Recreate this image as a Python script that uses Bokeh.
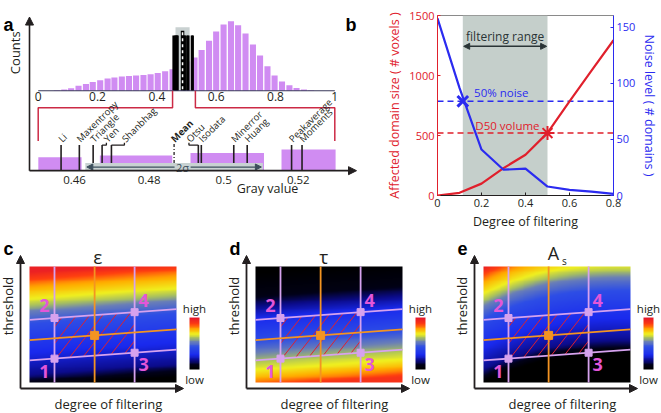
import numpy as np
from bokeh.plotting import figure
from bokeh.models import Range1d, LinearAxis, Arrow, NormalHead, FixedTicker
from bokeh.layouts import row, column
from bokeh.embed import file_html
from bokeh.resources import INLINE
from bokeh.core.properties import value

FONT = "Open Sans"
INK = "#231f20"
PURPLE = "#d08cf2"
RED_A = "#cc2a45"
RED = "#e0202c"
BLUE = "#2b2bf0"
LAV = "#d6a2ee"
ORANGE = "#f39422"
PINK = "#e356d9"
HATCH = "#e0202e"
GRAYBOX = "#c8d2d2"
SHADE = "#c5cfcb"
SLATE = "#3d4f5c"

# ---------------- panel a data ----------------
hist_centers = [0.063, 0.088, 0.111, 0.136, 0.161, 0.184, 0.209, 0.234, 0.257, 0.282,
                0.306, 0.330, 0.355, 0.379, 0.403, 0.428, 0.453, 0.477, 0.502, 0.527,
                0.551, 0.576, 0.600, 0.625, 0.650, 0.674, 0.699, 0.724, 0.748, 0.773,
                0.797, 0.822, 0.847, 0.871, 0.896, 0.920]
hist_counts = [0.7, 1.9, 3.7, 7.0, 9.6, 12.6, 15.2, 17.4, 18.9, 20.4,
               21.1, 21.9, 22.6, 23.7, 25.6, 27.8, 30.7, 36.0, 42.0, 47.8,
               58.5, 71.5, 84.8, 94.8, 99.6, 93.7, 81.9, 66.3, 50.4, 35.2,
               21.9, 13.3, 7.8, 4.1, 1.9, 0.7]
full_ticks = [0, 0.2, 0.4, 0.6, 0.8, 1]
full_tick_labels = ["0", "0.2", "0.4", "0.6", "0.8", "1"]
zoom_window = [0.453, 0.530]
mean_gray = 0.4867
sigma_gray = 0.0238
zoom_bin_left = [0.4503, 0.4668, 0.4911, 0.5155]
zoom_bin_right = [0.4619, 0.4862, 0.5108, 0.5300]
zoom_bin_counts = [17.3, 19.7, 22.7, 27.3]
zoom_ticks = [0.46, 0.48, 0.50, 0.52]
zoom_tick_labels = ["0.46", "0.48", "0.5", "0.52"]
methods = ["Li", "Maxentropy", "Triangle", "Yen", "Shanbhag", "Otsu", "Isodata",
           "Minerror", "Huang", "Peakaverage", "Moments"]
thresholds = [0.4564, 0.4613, 0.4650, 0.4674, 0.4699, 0.4932, 0.4940,
              0.5027, 0.5063, 0.5182, 0.5210]

# ---------------- panel b data ----------------
filter_deg = [0, 0.1, 0.2, 0.3, 0.4, 0.5, 0.6, 0.7, 0.8]
domain_size = [0, 22, 99, 228, 340, 522, 785, 1040, 1294]
noise_level = [158, 96, 41, 23, 24, 8, 5, 3.5, 1.5]
filter_range = [0.115, 0.5]
noise_50 = 84
noise_50_deg = 0.115
d50_volume = 520
d50_deg = 0.5

# ---------------- panels c-e schematic ----------------
filter_levels = [0.170, 0.443, 0.715]
thresh_y0 = [0.190, 0.365, 0.540]
thresh_slope = 0.093
corner_names = ["1", "2", "3", "4"]

cmap_pos = [0.0, 0.08, 0.17, 0.27, 0.42, 0.52, 0.60, 0.67, 0.76, 0.86, 1.0]
cmap_hex = ["#000000", "#02021a", "#0c0c8c", "#1a2aee", "#2e4ee6", "#6a7fb8",
            "#a8c060", "#f0f020", "#ffb000", "#ff4010", "#e01030"]
prof_up_t = [0.0, 0.11, 0.30, 0.55, 0.66, 0.71, 0.77, 0.88, 1.0]
prof_up_v = [0.0, 0.17, 0.27, 0.42, 0.52, 0.60, 0.67, 0.78, 0.95]
prof_down_t = [0.0, 0.05, 0.14, 0.23, 0.30, 0.40, 0.60, 0.70, 0.80, 1.0]
prof_down_v = [0.90, 0.80, 0.68, 0.60, 0.52, 0.42, 0.27, 0.17, 0.06, 0.0]

cm_rgb = np.array([[int(h[i:i + 2], 16) for i in (1, 3, 5)] for h in cmap_hex], float)


def colorize(v):
    v = np.clip(v, 0, 1)
    img = np.empty(v.shape, dtype=np.uint32)
    view = img.view(dtype=np.uint8).reshape(v.shape + (4,))
    for ch in range(3):
        view[..., ch] = np.interp(v, cmap_pos, cm_rgb[:, ch]).astype(np.uint8)
    view[..., 3] = 255
    return img


# =============== panel a ===============
A_W, TOP_H, A_BASE = 358, 232, 200
ZPX = 3730.0


def zx(px):
    return 0.46 + (px - 74) / ZPX


def zy(px):
    return A_BASE - px


def cy(px):
    return (97 - px) / 0.9


pa = figure(width=A_W, height=TOP_H, x_range=Range1d(zx(0), zx(A_W)),
            y_range=Range1d(zy(TOP_H), zy(0)),
            output_backend="svg", toolbar_location=None, x_axis_location=None,
            y_axis_location=None, min_border=0)
pa.extra_x_ranges = {"full": Range1d(-37.7 / 296.6, (A_W - 37.7) / 296.6)}
pa.extra_y_ranges = {"counts": Range1d(cy(TOP_H), cy(0))}
pa.xgrid.visible = False
pa.ygrid.visible = False
pa.outline_line_color = None

F = dict(x_range_name="full", y_range_name="counts")
pa.vbar(x=hist_centers, width=0.0205, top=hist_counts, bottom=0, fill_color=PURPLE,
        line_color=None, **F)
pa.quad(left=[mean_gray - sigma_gray], right=[mean_gray + sigma_gray], bottom=[0], top=[91],
        fill_color="#c9d1d1", line_color=None, **F)
pa.vbar(x=thresholds, width=0.008, top=79, bottom=0, fill_color="#000000", line_color=None, **F)
pa.line(x=[mean_gray, mean_gray], y=[0, 86], line_color="#000000", line_width=3.5, **F)
pa.line(x=[mean_gray, mean_gray], y=[2, 84], line_color="#ffffff", line_width=1.5,
        line_dash="3 3", **F)
pa.line(x=[full_ticks[0], full_ticks[-1]], y=[0, 0], line_color="#38385a", line_width=1.2, **F)
pa.text(x=full_ticks, y=[cy(105)] * len(full_ticks), text=full_tick_labels, text_align="center",
        text_baseline="middle", text_font=value(FONT), text_font_size="12px", text_color=INK, **F)
pa.multi_line(xs=[[zoom_window[0], zoom_window[0], full_ticks[0], full_ticks[0]],
                  [zoom_window[1], zoom_window[1], full_ticks[-1], full_ticks[-1]]],
              ys=[[0, cy(119), cy(119), cy(161.7)], [0, cy(119), cy(119), cy(161.7)]],
              line_color=RED_A, line_width=1.5, **F)

# zoomed histogram
pa.quad(left=zoom_bin_left, right=zoom_bin_right, bottom=0, top=zoom_bin_counts,
        fill_color=PURPLE, line_color=None)
line_top = zy(167)
pa.segment(x0=thresholds, y0=0, x1=thresholds, y1=line_top, line_color=INK, line_width=1.6)
label_dx_px = {"Yen": 4.3, "Shanbhag": 13.0, "Otsu": -9.4}
lab_x = []
for m, t in zip(methods, thresholds):
    d = label_dx_px.get(m, 0.0)
    lx = t + d / ZPX
    if d != 0.0:
        pa.line(x=[t, lx, lx], y=[line_top, line_top, line_top + 3], line_color=INK, line_width=1.3)
    lab_x.append(lx - 1.0 / ZPX)
pa.text(x=lab_x, y=[zy(161)] * len(methods), text=methods, angle=np.pi / 4, text_align="left",
        text_baseline="middle", text_font=value(FONT), text_font_size="9.5px", text_color=INK)
pa.line(x=[mean_gray, mean_gray], y=[zy(190), zy(165)], line_color=INK, line_width=1.3,
        line_dash="3 2 1 2")
pa.text(x=[mean_gray - 1.5 / ZPX], y=[zy(161)], text=["Mean"], angle=np.pi / 4, text_align="left",
        text_baseline="middle", text_font=value(FONT), text_font_size="9.5px",
        text_font_style="bold", text_color=INK)
pa.quad(left=[mean_gray - sigma_gray], right=[mean_gray + sigma_gray], bottom=[zy(199.3)],
        top=[zy(190)], fill_color=GRAYBOX, line_color=None)
sig_mid = mean_gray + 8.5 / ZPX
for (xs_, xe) in ((sig_mid - 8 / ZPX, mean_gray - sigma_gray + 1.5 / ZPX),
                  (sig_mid + 8 / ZPX, mean_gray + sigma_gray - 1.5 / ZPX)):
    pa.add_layout(Arrow(end=NormalHead(size=6, fill_color=SLATE, line_color=SLATE),
                        x_start=xs_, y_start=zy(195.3), x_end=xe, y_end=zy(195.3),
                        line_color=SLATE, line_width=1.3))
pa.text(x=[sig_mid], y=[zy(195.3)], text=["2σ"], text_align="center", text_baseline="middle",
        text_font=value(FONT), text_font_size="11px", text_color=SLATE)
# zoom axis tick labels and title
pa.text(x=zoom_ticks, y=[zy(211.5)] * len(zoom_ticks), text=zoom_tick_labels,
        text_align="center", text_baseline="middle", text_font=value(FONT),
        text_font_size="11.5px", text_color=INK)
pa.text(x=[zx(267)], y=[zy(223)], text=["Gray value"], text_align="center",
        text_baseline="middle", text_font=value(FONT), text_font_size="12.5px", text_color=INK)
# axes arrows
pa.add_layout(Arrow(end=NormalHead(size=8, fill_color=INK, line_color=INK),
                    x_start=zx(29), y_start=0, x_end=zx(356), y_end=0,
                    line_color=INK, line_width=1.6))
pa.add_layout(Arrow(end=NormalHead(size=8, fill_color=INK, line_color=INK),
                    x_start=zx(29), y_start=0, x_end=zx(29), y_end=zy(2),
                    line_color=INK, line_width=1.6))
pa.text(x=[zx(14)], y=[zy(48)], text=["Counts"], angle=np.pi / 2, text_align="center",
        text_baseline="middle", text_font=value(FONT), text_font_size="13px", text_color=INK)
pa.text(x=[zx(3)], y=[zy(12)], text=["a"], text_align="left", text_baseline="middle",
        text_font=value("Liberation Sans"), text_font_size="18px", text_font_style="bold",
        text_color="#000000")
pa.text(x=[zx(345)], y=[zy(12)], text=["b"], text_align="left", text_baseline="middle",
        text_font=value("Liberation Sans"), text_font_size="18px", text_font_style="bold",
        text_color="#000000")

# =============== panel b ===============
pb = figure(width=661 - A_W, height=TOP_H, x_range=Range1d(0, 0.8), y_range=Range1d(0, 1500),
            output_backend="svg", toolbar_location=None,
            min_border_left=79, min_border_right=44, min_border_top=15, min_border_bottom=35)
pb.extra_y_ranges = {"noise": Range1d(0, 160.6)}
pb.xgrid.visible = False
pb.ygrid.visible = False
pb.outline_line_color = "#8a8a8a"
pb.quad(left=[filter_range[0]], right=[filter_range[1]], bottom=[0], top=[1500],
        fill_color=SHADE, line_color=None)
pb.line(x=[filter_deg[0], filter_deg[-1]], y=[noise_50, noise_50], y_range_name="noise",
        line_color=BLUE, line_width=1.5, line_dash="6 4")
pb.line(x=[filter_deg[0], filter_deg[-1]], y=[d50_volume, d50_volume],
        line_color=RED, line_width=1.5, line_dash="6 4")
pb.line(filter_deg, domain_size, line_color=RED, line_width=2.2)
pb.line(filter_deg, noise_level, y_range_name="noise", line_color=BLUE, line_width=2.2)
pb.scatter(x=[noise_50_deg], y=[noise_50], y_range_name="noise", marker="x", size=15,
           line_width=3, line_color=BLUE)
pb.scatter(x=[d50_deg], y=[d50_volume], marker="asterisk", size=14, line_width=2,
           line_color=RED)
pb.text(x=[0.29], y=[857], text=["50% noise"], text_align="center", text_baseline="middle",
        text_font=value(FONT), text_font_size="11.5px", text_color=BLUE)
pb.text(x=[0.318], y=[585], text=["D50 volume"], text_align="center", text_baseline="middle",
        text_font=value(FONT), text_font_size="11.5px", text_color=RED)
pb.text(x=[sum(filter_range) / 2], y=[1322], text=["filtering range"], text_align="center",
        text_baseline="middle", text_font=value(FONT), text_font_size="12px", text_color="#2a3436")
pb.add_layout(Arrow(start=NormalHead(size=6, fill_color="#2a3436", line_color="#2a3436"),
                    end=NormalHead(size=6, fill_color="#2a3436", line_color="#2a3436"),
                    x_start=filter_range[0] + 0.004, y_start=1243, x_end=filter_range[1] - 0.004,
                    y_end=1243, line_color="#2a3436", line_width=1.5))

ax_l = pb.yaxis[0]
ax_l.ticker = FixedTicker(ticks=[0, 500, 1000, 1500])
ax_l.axis_label = "Affected domain size ( # voxels )"
ax_l.axis_line_color = RED
ax_l.major_tick_line_color = RED
ax_l.major_label_text_color = RED
ax_l.axis_label_text_color = RED
ax_r = LinearAxis(y_range_name="noise", ticker=FixedTicker(ticks=[0, 50, 100, 150]),
                  axis_label="Noise level ( # domains )", axis_line_color=BLUE,
                  major_tick_line_color=BLUE, major_label_text_color=BLUE,
                  axis_label_text_color=BLUE)
pb.add_layout(ax_r, "right")
pb.xaxis.ticker = FixedTicker(ticks=[0, 0.2, 0.4, 0.6, 0.8])
pb.xaxis.major_label_overrides = {0: "0"}
pb.xaxis.axis_label = "Degree of filtering"
pb.xaxis.axis_line_color = INK
pb.xaxis.major_tick_line_color = INK
pb.xaxis.major_label_text_color = INK
pb.xaxis.axis_label_text_color = INK
for ax in (pb.xaxis[0], ax_l, ax_r):
    ax.minor_tick_line_color = None
    ax.major_tick_in = 3
    ax.major_tick_out = 0
    ax.major_label_standoff = 3
    ax.axis_label_standoff = 3
    ax.major_label_text_font = FONT
    ax.major_label_text_font_size = "11px"
    ax.axis_label_text_font = FONT
    ax.axis_label_text_font_size = "12.5px"
    ax.axis_label_text_font_style = "normal"

# =============== panels c, d, e ===============
PXX, PXY = 147.0, 116.0
BOT_H, IMG_TOP, IMG_BOT = 413 - TOP_H, 266 - TOP_H, 382 - TOP_H


def heat_panel(letter, kind, img_left, fig_w, title):
    p = figure(width=fig_w, height=BOT_H,
               x_range=Range1d(-img_left / PXX, (fig_w - img_left) / PXX),
               y_range=Range1d(-(BOT_H - IMG_BOT) / PXY, 1 + IMG_TOP / PXY),
               output_backend="svg", toolbar_location=None,
               x_axis_location=None, y_axis_location=None, min_border=0)
    p.outline_line_color = None
    p.xgrid.visible = False
    p.ygrid.visible = False
    gx = np.linspace(0, 1, 160)
    gy = np.linspace(0, 1, 128)
    X, Y = np.meshgrid(gx, gy)
    if kind == "up":
        v = np.interp(Y - 0.09 * (X - 0.5), prof_up_t, prof_up_v)
    elif kind == "down":
        v = np.interp(Y - 0.09 * (X - 0.5), prof_down_t, prof_down_v)
    else:
        v = np.interp(Y - 0.25 * (1 - (1 - X) ** 2.5), prof_up_t, prof_up_v)
    p.image_rgba(image=[colorize(v)], x=0, y=0, dw=1, dh=1)

    def dx(px):
        return px / PXX

    def dy(px):
        return px / PXY

    lo, mid, hi = thresh_y0
    f0, fm, f1 = filter_levels
    s = thresh_slope
    # hatch in the parallelogram
    k = np.tan(np.radians(52)) * PXX / PXY
    c_min = f0 - (hi + s * f0) / k
    c_max = f1 - (lo + s * f1) / k
    hx0, hy0, hx1, hy1 = [], [], [], []
    for c in np.arange(c_min + dx(7), c_max, dx(13)):
        xa = max((lo + k * c) / (k - s), f0)
        xb = min((hi + k * c) / (k - s), f1)
        if xb > xa:
            hx0.append(xa); hy0.append(k * (xa - c)); hx1.append(xb); hy1.append(k * (xb - c))
    p.segment(x0=hx0, y0=hy0, x1=hx1, y1=hy1, line_color=HATCH, line_width=1.0)
    # grid lines
    p.segment(x0=[0, 0], y0=[lo, hi], x1=[1, 1], y1=[lo + s, hi + s], line_color=LAV, line_width=1.8)
    p.segment(x0=[f0, f1], y0=[0, 0], x1=[f0, f1], y1=[1, 1], line_color=LAV, line_width=1.8)
    p.segment(x0=[0], y0=[mid], x1=[1], y1=[mid + s], line_color=ORANGE, line_width=1.8)
    p.segment(x0=[fm], y0=[0], x1=[fm], y1=[1], line_color=ORANGE, line_width=1.8)
    cxs = [f0, f0, f1, f1]
    cys = [lo + s * f0, hi + s * f0, lo + s * f1, hi + s * f1]
    p.scatter(x=cxs, y=cys, marker="square", size=7, fill_color=LAV, line_color=LAV)
    p.scatter(x=[fm], y=[mid + s * fm], marker="square", size=8, fill_color=ORANGE,
              line_color=ORANGE)
    offx = [-10, -10, 9, 9]
    offy = [-12.5, 12.5, -12, 12]
    p.text(x=[cx + dx(o) for cx, o in zip(cxs, offx)], y=[cy_ + dy(o) for cy_, o in zip(cys, offy)],
           text=corner_names, text_align="center", text_baseline="middle", text_font=value(FONT),
           text_font_size="18px", text_font_style="bold", text_color=PINK)
    # axes arrows
    for (xs_, ys_, xe, ye) in ((-dx(9), -dy(6), -dx(9), 1 + dy(11)),
                               (-dx(9), -dy(6), 1 + dx(7), -dy(6))):
        p.add_layout(Arrow(end=NormalHead(size=8, fill_color=INK, line_color=INK),
                           x_start=xs_, y_start=ys_, x_end=xe, y_end=ye,
                           line_color=INK, line_width=1.8))
    p.text(x=[-dx(22)], y=[0.66], text=["threshold"], angle=np.pi / 2, text_align="center",
           text_baseline="middle", text_font=value(FONT), text_font_size="13px", text_color=INK)
    p.text(x=[0.537], y=[-dy(21)], text=["degree of filtering"], text_align="center",
           text_baseline="middle", text_font=value(FONT), text_font_size="13px", text_color=INK)
    p.text(x=[-dx(26)], y=[1 + dy(18)], text=[letter], text_align="left", text_baseline="middle",
           text_font=value("Liberation Sans"), text_font_size="18px", text_font_style="bold",
           text_color="#000000")
    if title == "As":
        p.text(x=[0.475], y=[1.115], text=["A"], text_align="center", text_baseline="middle",
               text_font=value(FONT), text_font_size="18px", text_color=INK)
        p.text(x=[0.55], y=[1.045], text=["s"], text_align="center", text_baseline="middle",
               text_font=value(FONT), text_font_size="10px", text_color=INK)
    else:
        p.text(x=[0.465], y=[1.085], text=[title], text_align="center", text_baseline="middle",
               text_font=value(FONT), text_font_size="19px", text_color=INK)
    # colour bar
    bar = colorize(np.linspace(0, 1, 64).reshape(64, 1))
    p.image_rgba(image=[bar], x=1 + dx(13), y=0.112, dw=dx(10), dh=0.448)
    p.text(x=[1 + dx(18)], y=[0.64], text=["high"], text_align="center", text_baseline="middle",
           text_font=value(FONT), text_font_size="11.5px", text_color=INK)
    p.text(x=[1 + dx(18)], y=[0.025], text=["low"], text_align="center", text_baseline="middle",
           text_font=value(FONT), text_font_size="11.5px", text_color=INK)
    return p


pc = heat_panel("c", "up", 29, 220, "ε")
pd = heat_panel("d", "down", 35, 220, "τ")
pe = heat_panel("e", "slope", 43, 221, "As")

layout = column(row(pa, pb), row(pc, pd, pe))
open("out.html", "w").write(file_html(layout, INLINE))
